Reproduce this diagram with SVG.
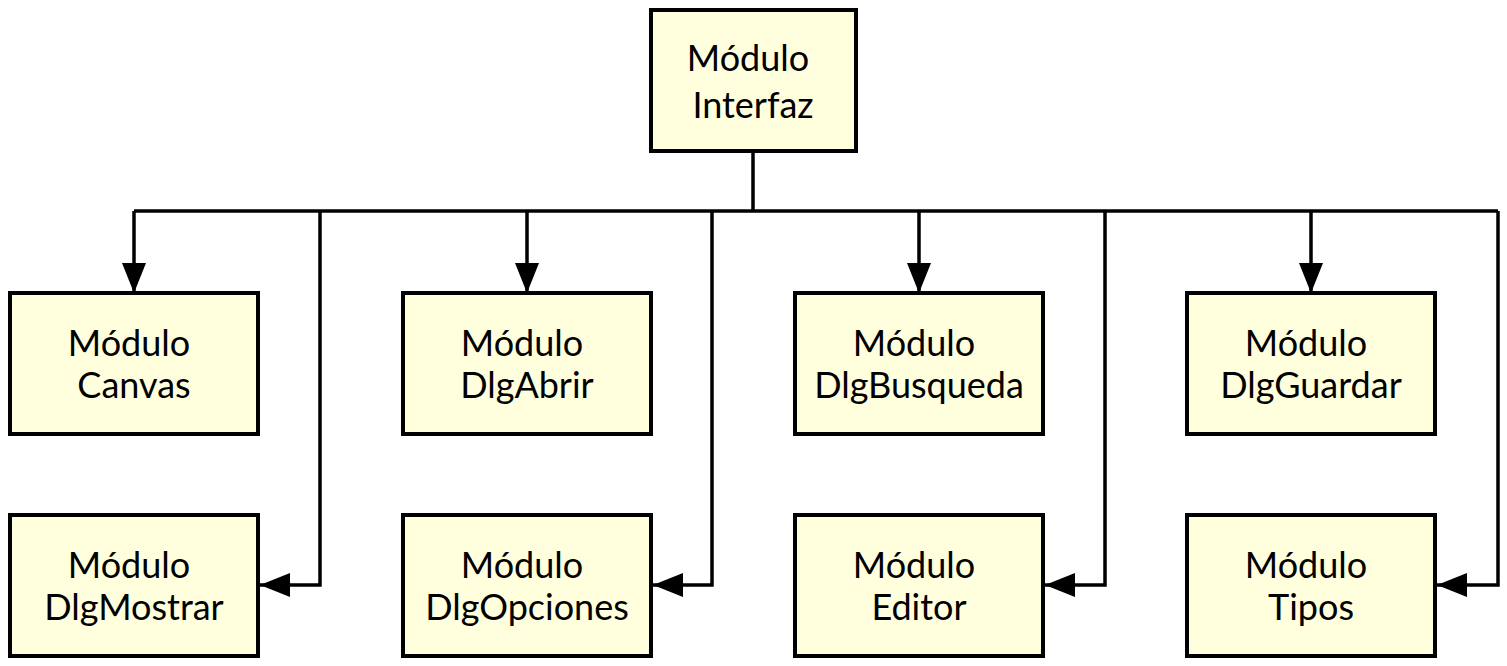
<svg xmlns="http://www.w3.org/2000/svg" width="1507" height="666" viewBox="0 0 1507 666">
<style>
.box{fill:#ffffdd;stroke:#000;stroke-width:4}
.lbl{font-family:Lato,"Liberation Sans",sans-serif;font-size:36px;fill:#000;text-anchor:middle}
.edge{fill:none;stroke:#000;stroke-width:3.5}
</style>
<defs>
<marker id="ah" viewBox="0 0 30 24" refX="30" refY="12" markerWidth="30" markerHeight="24" markerUnits="userSpaceOnUse" orient="auto">
<path d="M0,0 L30,12 L0,24 Z" fill="#000"/>
</marker>
</defs>
<rect width="1507" height="666" fill="#fff"/>
<g id="connectors">
<path class="edge" d="M753,151 V211"/>
<path class="edge" d="M134,211 H1498"/>
<path class="edge" d="M134,211 V293" marker-end="url(#ah)"/>
<path class="edge" d="M527,211 V293" marker-end="url(#ah)"/>
<path class="edge" d="M919,211 V293" marker-end="url(#ah)"/>
<path class="edge" d="M1311,211 V293" marker-end="url(#ah)"/>
<path class="edge" d="M320,211 V585 H260" marker-end="url(#ah)"/>
<path class="edge" d="M712,211 V585 H653" marker-end="url(#ah)"/>
<path class="edge" d="M1105,211 V585 H1045" marker-end="url(#ah)"/>
<path class="edge" d="M1498,211 V585 H1437" marker-end="url(#ah)"/>
</g>
<g id="interfaz"><rect class="box" x="651" y="10" width="205" height="141"/><text class="lbl" x="748" y="71">Módulo</text><text class="lbl" x="753" y="118">Interfaz</text></g>
<g id="canvas"><rect class="box" x="10" y="293" width="248" height="141"/><text class="lbl" x="129" y="356">Módulo</text><text class="lbl" x="134" y="398">Canvas</text></g>
<g id="dlgabrir"><rect class="box" x="403" y="293" width="248" height="141"/><text class="lbl" x="522" y="356">Módulo</text><text class="lbl" x="527" y="398">DlgAbrir</text></g>
<g id="dlgbusqueda"><rect class="box" x="795" y="293" width="248" height="141"/><text class="lbl" x="914" y="356">Módulo</text><text class="lbl" x="919" y="398">DlgBusqueda</text></g>
<g id="dlgguardar"><rect class="box" x="1187" y="293" width="248" height="141"/><text class="lbl" x="1306" y="356">Módulo</text><text class="lbl" x="1311" y="398">DlgGuardar</text></g>
<g id="dlgmostrar"><rect class="box" x="10" y="515" width="248" height="141"/><text class="lbl" x="129" y="578">Módulo</text><text class="lbl" x="134" y="620">DlgMostrar</text></g>
<g id="dlgopciones"><rect class="box" x="403" y="515" width="248" height="141"/><text class="lbl" x="522" y="578">Módulo</text><text class="lbl" x="527" y="620">DlgOpciones</text></g>
<g id="editor"><rect class="box" x="795" y="515" width="248" height="141"/><text class="lbl" x="914" y="578">Módulo</text><text class="lbl" x="919" y="620">Editor</text></g>
<g id="tipos"><rect class="box" x="1187" y="515" width="248" height="141"/><text class="lbl" x="1306" y="578">Módulo</text><text class="lbl" x="1311" y="620">Tipos</text></g>
</svg>
